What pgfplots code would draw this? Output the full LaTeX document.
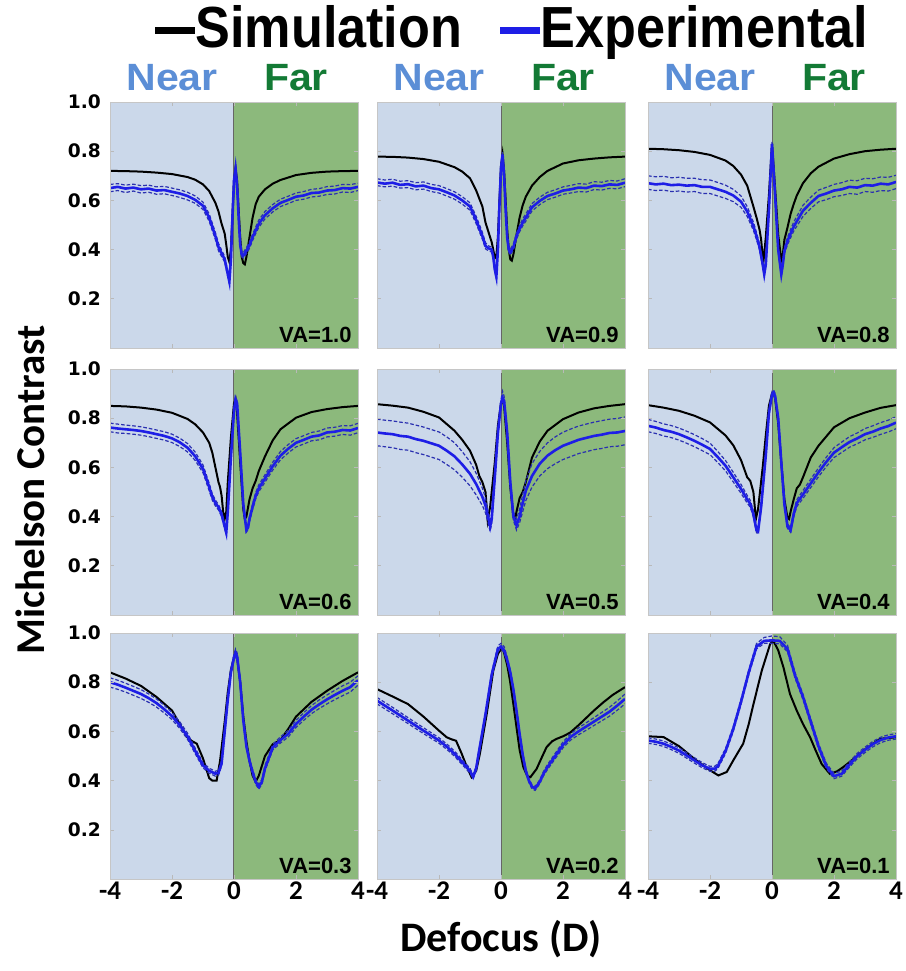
\documentclass[border=0pt]{standalone}
\usepackage{pgfplots}
\pgfplotsset{compat=1.18}
\usepackage{pgfplotstable}
\usepackage{fontspec}
\setmainfont{Carlito}
\newfontfamily\legfont[FakeStretch=0.9]{Liberation Sans}
\newfontfamily\nearfont[FakeStretch=1.08]{Liberation Sans}
\newfontfamily\arialfont{Liberation Sans}
\newfontfamily\dejafont{DejaVu Sans}
\definecolor{nearc}{HTML}{CBD8EA}
\definecolor{farc}{HTML}{8CB97C}
\definecolor{neartxt}{HTML}{5B8ED6}
\definecolor{fartxt}{HTML}{137A35}
\definecolor{expblue}{HTML}{1E1EE6}
\definecolor{bndblue}{HTML}{2A30B0}

% ---------------- VA = 1.0 ----------------
\pgfplotstableread{
x y
-4 0.720
-3.5 0.719
-3 0.717
-2.5 0.713
-2 0.707
-1.5 0.695
-1.25 0.684
-1 0.665
-0.8 0.638
-0.6 0.590
-0.5 0.555
-0.4 0.505
-0.3 0.465
-0.25 0.420
-0.2 0.370
-0.15 0.350
-0.1 0.400
-0.05 0.540
0 0.680
0.05 0.730
0.1 0.680
0.15 0.560
0.2 0.450
0.25 0.370
0.3 0.345
0.35 0.340
0.4 0.370
0.5 0.450
0.6 0.530
0.7 0.585
0.8 0.615
1 0.645
1.25 0.668
1.5 0.683
2 0.703
2.5 0.712
3 0.717
3.5 0.719
4 0.720
}\simA
\pgfplotstableread{
x y lo hi
-4 0.650 0.635 0.665
-3.75 0.655 0.640 0.668
-3.5 0.648 0.632 0.662
-3.25 0.652 0.638 0.666
-3 0.645 0.630 0.660
-2.75 0.648 0.633 0.662
-2.5 0.640 0.625 0.655
-2.25 0.642 0.627 0.657
-2 0.635 0.620 0.650
-1.75 0.628 0.612 0.643
-1.5 0.618 0.602 0.633
-1.25 0.602 0.588 0.618
-1 0.578 0.563 0.593
-0.8 0.530 0.515 0.545
-0.6 0.455 0.440 0.470
-0.5 0.410 0.395 0.425
-0.4 0.385 0.372 0.398
-0.3 0.360 0.350 0.372
-0.2 0.300 0.290 0.312
-0.15 0.270 0.262 0.280
-0.1 0.360 0.350 0.370
-0.05 0.530 0.520 0.540
0 0.680 0.670 0.690
0.05 0.730 0.720 0.740
0.1 0.660 0.650 0.670
0.15 0.530 0.520 0.540
0.2 0.420 0.410 0.430
0.25 0.380 0.370 0.390
0.3 0.375 0.365 0.388
0.4 0.395 0.383 0.408
0.5 0.418 0.405 0.432
0.6 0.450 0.437 0.463
0.7 0.478 0.465 0.492
0.8 0.505 0.490 0.520
1 0.540 0.525 0.555
1.25 0.568 0.553 0.583
1.5 0.590 0.575 0.605
1.75 0.602 0.587 0.617
2 0.615 0.600 0.630
2.25 0.620 0.605 0.636
2.5 0.630 0.614 0.645
2.75 0.632 0.617 0.648
3 0.640 0.624 0.656
3.25 0.642 0.626 0.658
3.5 0.650 0.634 0.665
3.75 0.648 0.632 0.664
4 0.655 0.640 0.670
}\expA

% ---------------- VA = 0.9 ----------------
\pgfplotstableread{
x y
-4 0.778
-3.5 0.777
-3 0.774
-2.5 0.768
-2 0.757
-1.5 0.735
-1.25 0.717
-1 0.690
-0.8 0.640
-0.6 0.575
-0.5 0.510
-0.4 0.470
-0.3 0.430
-0.25 0.400
-0.2 0.365
-0.15 0.375
-0.1 0.450
-0.05 0.600
0 0.740
0.05 0.787
0.1 0.720
0.15 0.600
0.2 0.480
0.25 0.400
0.3 0.360
0.35 0.355
0.4 0.380
0.5 0.460
0.6 0.530
0.7 0.580
0.8 0.615
1 0.660
1.25 0.695
1.5 0.720
2 0.750
2.5 0.763
3 0.770
3.5 0.775
4 0.778
}\simB
\pgfplotstableread{
x y lo hi
-4 0.673 0.660 0.688
-3.75 0.668 0.655 0.683
-3.5 0.672 0.658 0.686
-3.25 0.663 0.650 0.678
-3 0.666 0.652 0.680
-2.75 0.657 0.643 0.672
-2.5 0.660 0.646 0.675
-2.25 0.650 0.636 0.665
-2 0.645 0.630 0.660
-1.75 0.633 0.618 0.648
-1.5 0.620 0.605 0.635
-1.25 0.600 0.585 0.615
-1 0.575 0.560 0.590
-0.8 0.520 0.505 0.535
-0.6 0.455 0.442 0.470
-0.5 0.415 0.403 0.428
-0.4 0.405 0.395 0.415
-0.3 0.400 0.390 0.410
-0.25 0.370 0.360 0.380
-0.2 0.320 0.310 0.330
-0.15 0.290 0.280 0.300
-0.1 0.400 0.390 0.410
-0.05 0.580 0.570 0.590
0 0.730 0.720 0.740
0.05 0.787 0.777 0.797
0.1 0.700 0.690 0.710
0.15 0.560 0.550 0.570
0.2 0.450 0.440 0.460
0.25 0.400 0.390 0.412
0.3 0.390 0.378 0.402
0.4 0.410 0.398 0.423
0.5 0.455 0.442 0.468
0.6 0.485 0.472 0.498
0.7 0.510 0.496 0.525
0.8 0.530 0.515 0.545
1 0.572 0.557 0.587
1.25 0.598 0.583 0.613
1.5 0.618 0.603 0.633
1.75 0.628 0.613 0.643
2 0.640 0.625 0.655
2.25 0.645 0.630 0.661
2.5 0.652 0.636 0.668
2.75 0.650 0.634 0.666
3 0.660 0.644 0.676
3.25 0.658 0.642 0.674
3.5 0.665 0.649 0.681
3.75 0.663 0.647 0.679
4 0.672 0.656 0.688
}\expB

% ---------------- VA = 0.8 ----------------
\pgfplotstableread{
x y
-4 0.810
-3.5 0.808
-3 0.804
-2.5 0.797
-2 0.785
-1.5 0.762
-1.25 0.740
-1 0.705
-0.8 0.660
-0.6 0.575
-0.5 0.530
-0.4 0.480
-0.35 0.440
-0.3 0.370
-0.27 0.358
-0.2 0.450
-0.1 0.620
0 0.830
0.1 0.650
0.2 0.460
0.3 0.358
0.35 0.380
0.4 0.440
0.5 0.490
0.6 0.545
0.7 0.585
0.8 0.620
1 0.670
1.25 0.710
1.5 0.737
2 0.770
2.5 0.788
3 0.800
3.5 0.806
4 0.810
}\simC
\pgfplotstableread{
x y lo hi
-4 0.670 0.645 0.700
-3.75 0.665 0.640 0.696
-3.5 0.668 0.642 0.698
-3.25 0.662 0.636 0.692
-3 0.664 0.638 0.694
-2.75 0.660 0.634 0.690
-2.5 0.662 0.636 0.690
-2.25 0.655 0.628 0.684
-2 0.655 0.628 0.683
-1.75 0.645 0.618 0.673
-1.5 0.635 0.608 0.662
-1.25 0.620 0.595 0.645
-1 0.595 0.572 0.618
-0.8 0.555 0.535 0.575
-0.6 0.495 0.478 0.512
-0.5 0.455 0.440 0.470
-0.4 0.410 0.398 0.422
-0.3 0.340 0.330 0.350
-0.25 0.300 0.292 0.308
-0.2 0.340 0.332 0.348
-0.1 0.560 0.552 0.568
0 0.830 0.822 0.838
0.1 0.620 0.612 0.628
0.2 0.400 0.392 0.408
0.3 0.300 0.292 0.308
0.35 0.340 0.330 0.350
0.4 0.395 0.383 0.408
0.5 0.435 0.420 0.450
0.6 0.465 0.448 0.482
0.7 0.493 0.475 0.512
0.8 0.515 0.495 0.535
1 0.558 0.535 0.580
1.25 0.590 0.567 0.613
1.5 0.618 0.594 0.642
1.75 0.628 0.603 0.653
2 0.640 0.615 0.665
2.25 0.645 0.620 0.672
2.5 0.655 0.628 0.682
2.75 0.652 0.625 0.680
3 0.662 0.636 0.690
3.25 0.660 0.633 0.688
3.5 0.668 0.640 0.695
3.75 0.665 0.638 0.694
4 0.675 0.648 0.702
}\expC

% ---------------- VA = 0.6 ----------------
\pgfplotstableread{
x y
-4 0.850
-3.5 0.848
-3 0.843
-2.5 0.835
-2 0.822
-1.5 0.797
-1.25 0.775
-1 0.742
-0.8 0.700
-0.7 0.660
-0.6 0.600
-0.5 0.540
-0.45 0.520
-0.4 0.485
-0.35 0.420
-0.3 0.390
-0.25 0.420
-0.2 0.540
-0.1 0.720
0 0.860
0.05 0.877
0.1 0.820
0.2 0.620
0.3 0.430
0.35 0.390
0.4 0.400
0.5 0.470
0.6 0.515
0.7 0.545
0.8 0.585
1 0.645
1.25 0.710
1.5 0.755
2 0.802
2.5 0.825
3 0.837
3.5 0.845
4 0.850
}\simD
\pgfplotstableread{
x y lo hi
-4 0.762 0.745 0.780
-3.75 0.758 0.740 0.776
-3.5 0.755 0.738 0.772
-3.25 0.752 0.735 0.769
-3 0.748 0.731 0.765
-2.75 0.742 0.725 0.759
-2.5 0.735 0.718 0.752
-2.25 0.728 0.711 0.745
-2 0.718 0.701 0.735
-1.75 0.702 0.685 0.719
-1.5 0.680 0.663 0.697
-1.25 0.645 0.628 0.662
-1 0.594 0.578 0.610
-0.8 0.520 0.505 0.535
-0.7 0.480 0.467 0.493
-0.6 0.455 0.443 0.467
-0.5 0.438 0.427 0.449
-0.4 0.410 0.400 0.420
-0.3 0.360 0.350 0.370
-0.25 0.335 0.327 0.343
-0.2 0.420 0.412 0.428
-0.1 0.640 0.632 0.648
0 0.830 0.822 0.840
0.05 0.877 0.867 0.887
0.1 0.860 0.850 0.870
0.2 0.660 0.652 0.668
0.3 0.450 0.442 0.458
0.4 0.345 0.337 0.353
0.45 0.355 0.346 0.364
0.5 0.390 0.380 0.400
0.6 0.440 0.428 0.452
0.7 0.485 0.472 0.498
0.8 0.515 0.501 0.529
1 0.555 0.540 0.570
1.25 0.605 0.589 0.621
1.5 0.648 0.631 0.665
1.75 0.676 0.659 0.693
2 0.700 0.683 0.717
2.25 0.712 0.695 0.729
2.5 0.725 0.708 0.742
2.75 0.730 0.712 0.748
3 0.742 0.724 0.760
3.25 0.745 0.727 0.763
3.5 0.752 0.734 0.770
3.75 0.750 0.731 0.769
4 0.760 0.741 0.779
}\expD

% ---------------- VA = 0.5 ----------------
\pgfplotstableread{
x y
-4 0.857
-3.5 0.851
-3 0.843
-2.5 0.826
-2 0.803
-1.5 0.749
-1.25 0.712
-1 0.668
-0.8 0.610
-0.7 0.565
-0.6 0.540
-0.5 0.500
-0.43 0.385
-0.35 0.440
-0.2 0.620
-0.1 0.770
0 0.860
0.05 0.877
0.1 0.850
0.2 0.700
0.3 0.520
0.4 0.400
0.45 0.385
0.5 0.420
0.6 0.475
0.7 0.500
0.8 0.540
1 0.640
1.25 0.705
1.5 0.749
2 0.796
2.5 0.823
3 0.840
3.5 0.850
4 0.857
}\simE
\pgfplotstableread{
x y lo hi
-4 0.742 0.688 0.796
-3.75 0.738 0.684 0.792
-3.5 0.735 0.680 0.789
-3.25 0.728 0.673 0.784
-3 0.725 0.670 0.780
-2.75 0.715 0.660 0.772
-2.5 0.708 0.652 0.764
-2.25 0.698 0.642 0.754
-2 0.688 0.632 0.744
-1.75 0.668 0.612 0.724
-1.5 0.645 0.590 0.700
-1.25 0.612 0.560 0.664
-1 0.574 0.525 0.623
-0.8 0.532 0.488 0.576
-0.6 0.480 0.445 0.515
-0.5 0.445 0.415 0.475
-0.4 0.390 0.365 0.412
-0.35 0.360 0.340 0.385
-0.3 0.390 0.372 0.408
-0.2 0.560 0.545 0.575
-0.1 0.740 0.728 0.752
0 0.860 0.850 0.875
0.05 0.884 0.872 0.910
0.1 0.870 0.860 0.890
0.2 0.740 0.730 0.755
0.3 0.540 0.530 0.555
0.4 0.400 0.385 0.418
0.5 0.365 0.345 0.390
0.6 0.400 0.375 0.430
0.7 0.455 0.420 0.490
0.8 0.505 0.465 0.545
1 0.565 0.520 0.615
1.25 0.615 0.565 0.665
1.5 0.648 0.595 0.700
1.75 0.670 0.615 0.724
2 0.688 0.632 0.743
2.25 0.700 0.644 0.756
2.5 0.712 0.656 0.768
2.75 0.720 0.664 0.776
3 0.728 0.672 0.784
3.25 0.733 0.677 0.790
3.5 0.740 0.684 0.796
3.75 0.742 0.686 0.799
4 0.748 0.692 0.805
}\expE

% ---------------- VA = 0.4 ----------------
\pgfplotstableread{
x y
-4 0.853
-3.5 0.843
-3 0.830
-2.5 0.810
-2 0.783
-1.5 0.730
-1.25 0.690
-1 0.630
-0.9 0.595
-0.8 0.560
-0.7 0.545
-0.6 0.500
-0.52 0.390
-0.45 0.430
-0.3 0.600
-0.2 0.730
-0.1 0.850
0 0.900
0.05 0.904
0.1 0.880
0.2 0.780
0.3 0.620
0.4 0.470
0.5 0.395
0.55 0.390
0.6 0.420
0.7 0.470
0.8 0.515
0.9 0.530
1 0.560
1.25 0.640
1.5 0.688
2 0.763
2.5 0.800
3 0.823
3.5 0.842
4 0.853
}\simF
\pgfplotstableread{
x y lo hi
-4 0.769 0.745 0.795
-3.75 0.762 0.738 0.787
-3.5 0.752 0.728 0.777
-3.25 0.745 0.721 0.770
-3 0.735 0.711 0.760
-2.75 0.722 0.698 0.747
-2.5 0.708 0.684 0.733
-2.25 0.692 0.668 0.717
-2 0.675 0.652 0.699
-1.75 0.642 0.620 0.665
-1.5 0.607 0.586 0.628
-1.25 0.560 0.541 0.580
-1 0.513 0.495 0.531
-0.8 0.470 0.455 0.486
-0.7 0.452 0.438 0.466
-0.6 0.410 0.398 0.423
-0.5 0.345 0.335 0.356
-0.45 0.340 0.330 0.350
-0.35 0.440 0.432 0.450
-0.2 0.650 0.642 0.660
-0.1 0.820 0.810 0.830
0 0.895 0.885 0.910
0.05 0.904 0.890 0.915
0.1 0.890 0.878 0.902
0.2 0.800 0.790 0.810
0.3 0.620 0.612 0.630
0.4 0.450 0.442 0.460
0.5 0.360 0.352 0.370
0.6 0.345 0.336 0.355
0.7 0.410 0.398 0.422
0.8 0.455 0.441 0.469
1 0.490 0.474 0.506
1.25 0.535 0.518 0.552
1.5 0.580 0.562 0.598
1.75 0.622 0.603 0.641
2 0.660 0.640 0.680
2.25 0.682 0.661 0.703
2.5 0.703 0.682 0.725
2.75 0.718 0.696 0.740
3 0.735 0.712 0.758
3.25 0.745 0.722 0.769
3.5 0.758 0.734 0.782
3.75 0.768 0.744 0.792
4 0.782 0.757 0.806
}\expF

% ---------------- VA = 0.3 ----------------
\pgfplotstableread{
x y
-4 0.840
-3.5 0.815
-3 0.785
-2.5 0.740
-2 0.685
-1.75 0.630
-1.5 0.575
-1.35 0.560
-1.2 0.550
-1 0.490
-0.8 0.410
-0.7 0.400
-0.56 0.400
-0.45 0.480
-0.3 0.640
-0.2 0.760
-0.1 0.850
0 0.900
0.05 0.920
0.1 0.900
0.2 0.800
0.3 0.660
0.4 0.560
0.5 0.480
0.6 0.420
0.7 0.395
0.8 0.420
1 0.500
1.25 0.548
1.5 0.565
1.75 0.610
2 0.660
2.5 0.720
3 0.765
3.5 0.805
4 0.840
}\simG
\pgfplotstableread{
x y lo hi
-4 0.800 0.780 0.818
-3.75 0.790 0.771 0.808
-3.5 0.778 0.760 0.796
-3.25 0.765 0.747 0.783
-3 0.752 0.734 0.770
-2.75 0.735 0.718 0.752
-2.5 0.715 0.699 0.732
-2.25 0.690 0.675 0.706
-2 0.662 0.648 0.677
-1.75 0.625 0.612 0.639
-1.5 0.580 0.568 0.593
-1.25 0.520 0.509 0.532
-1 0.462 0.452 0.473
-0.8 0.440 0.430 0.450
-0.6 0.428 0.418 0.438
-0.5 0.432 0.422 0.442
-0.4 0.470 0.460 0.480
-0.3 0.600 0.590 0.612
-0.2 0.730 0.720 0.742
-0.1 0.840 0.830 0.852
0 0.900 0.890 0.915
0.05 0.918 0.905 0.935
0.1 0.905 0.893 0.920
0.2 0.800 0.790 0.812
0.3 0.645 0.635 0.655
0.4 0.540 0.530 0.550
0.5 0.480 0.470 0.490
0.6 0.435 0.425 0.445
0.7 0.395 0.385 0.405
0.8 0.375 0.365 0.385
0.9 0.395 0.385 0.405
1 0.450 0.440 0.462
1.25 0.535 0.524 0.547
1.5 0.565 0.553 0.578
1.75 0.590 0.577 0.604
2 0.630 0.616 0.645
2.25 0.660 0.645 0.676
2.5 0.688 0.672 0.705
2.75 0.710 0.693 0.728
3 0.730 0.712 0.748
3.25 0.748 0.729 0.767
3.5 0.765 0.745 0.785
3.75 0.780 0.760 0.800
4 0.808 0.788 0.826
}\expG

% ---------------- VA = 0.2 ----------------
\pgfplotstableread{
x y
-4 0.772
-3.5 0.742
-3 0.711
-2.5 0.660
-2 0.603
-1.75 0.576
-1.6 0.568
-1.45 0.562
-1.27 0.510
-1.1 0.455
-0.95 0.414
-0.8 0.440
-0.68 0.510
-0.46 0.671
-0.25 0.846
-0.1 0.915
0 0.934
0.08 0.930
0.2 0.870
0.29 0.806
0.4 0.710
0.5 0.617
0.6 0.525
0.72 0.455
0.85 0.418
0.95 0.414
1.15 0.448
1.3 0.490
1.47 0.536
1.65 0.560
1.8 0.570
2 0.580
2.23 0.595
2.5 0.625
2.75 0.655
3 0.685
3.3 0.718
3.6 0.748
4 0.780
}\simH
\pgfplotstableread{
x y lo hi
-4 0.725 0.712 0.738
-3.5 0.685 0.672 0.698
-3 0.644 0.632 0.656
-2.5 0.603 0.591 0.615
-2 0.563 0.552 0.574
-1.75 0.538 0.527 0.549
-1.5 0.509 0.499 0.520
-1.25 0.475 0.465 0.485
-1 0.440 0.430 0.450
-0.9 0.415 0.407 0.423
-0.8 0.450 0.442 0.458
-0.7 0.525 0.517 0.533
-0.5 0.670 0.662 0.678
-0.3 0.830 0.822 0.840
-0.1 0.935 0.925 0.948
0 0.945 0.935 0.958
0.1 0.930 0.920 0.945
0.2 0.890 0.880 0.902
0.3 0.840 0.830 0.850
0.4 0.770 0.762 0.778
0.5 0.684 0.676 0.692
0.6 0.590 0.582 0.598
0.7 0.505 0.497 0.513
0.8 0.440 0.432 0.448
0.9 0.400 0.392 0.408
1 0.375 0.367 0.383
1.1 0.368 0.360 0.376
1.25 0.395 0.387 0.403
1.37 0.428 0.419 0.437
1.5 0.455 0.445 0.465
1.75 0.500 0.489 0.511
2 0.545 0.533 0.557
2.25 0.578 0.565 0.591
2.5 0.600 0.586 0.614
2.75 0.620 0.605 0.635
3 0.640 0.624 0.656
3.25 0.660 0.643 0.677
3.5 0.680 0.662 0.698
3.75 0.705 0.686 0.724
4 0.732 0.712 0.752
}\expH

% ---------------- VA = 0.1 ----------------
\pgfplotstableread{
x y
-4 0.580
-3.5 0.577
-3 0.540
-2.5 0.488
-2 0.442
-1.73 0.421
-1.46 0.435
-1.25 0.482
-0.93 0.550
-0.75 0.630
-0.6 0.710
-0.33 0.847
-0.06 0.955
0.04 0.969
0.2 0.930
0.37 0.860
0.58 0.752
0.8 0.684
1 0.630
1.23 0.576
1.4 0.525
1.6 0.468
1.87 0.427
2.1 0.438
2.3 0.455
2.6 0.485
2.95 0.522
3.2 0.545
3.49 0.570
4 0.576
}\simI
\pgfplotstableread{
x y lo hi
-4 0.563 0.552 0.574
-3.75 0.558 0.547 0.569
-3.5 0.550 0.539 0.561
-3.25 0.537 0.526 0.548
-3 0.522 0.511 0.533
-2.75 0.502 0.491 0.513
-2.5 0.482 0.471 0.493
-2.25 0.462 0.452 0.473
-2 0.448 0.438 0.458
-1.85 0.448 0.438 0.458
-1.75 0.458 0.448 0.468
-1.5 0.520 0.510 0.530
-1.25 0.610 0.600 0.620
-1 0.720 0.710 0.730
-0.75 0.840 0.830 0.850
-0.5 0.945 0.935 0.957
-0.25 0.968 0.958 0.982
0 0.970 0.958 0.988
0.25 0.968 0.956 0.985
0.5 0.935 0.923 0.950
0.75 0.825 0.814 0.837
1 0.740 0.729 0.751
1.25 0.640 0.629 0.651
1.5 0.540 0.529 0.551
1.75 0.460 0.450 0.471
2 0.418 0.408 0.429
2.25 0.428 0.418 0.439
2.5 0.465 0.455 0.476
2.75 0.500 0.489 0.511
3 0.525 0.514 0.536
3.25 0.548 0.537 0.559
3.5 0.565 0.554 0.576
3.75 0.575 0.564 0.586
4 0.580 0.569 0.591
}\expI

\pgfplotsset{
  panelstyle/.style={
    anchor=south west, scale only axis, width=124pt, height=123pt,
    xmin=-4, xmax=4, ymin=0, ymax=1,
    xtick={-4,-2,0,2,4}, ytick={0.2,0.4,0.6,0.8,1.0},
    xticklabels={}, yticklabels={},
    tick align=inside, major tick length=2pt,
    tick style={draw=gray!55, line width=0.3pt},
    axis line style={draw=gray!45, line width=0.4pt},
    axis on top, clip=true,
  },
  leftcol/.style={yticklabels={0.2,0.4,0.6,0.8,1.0},
    yticklabel style={font=\dejafont\bfseries\fontsize{9.3}{10}\selectfont, xshift=-1pt}},
  bottomrow/.style={xticklabels={-4,-2,0,2,4},
    xticklabel style={font=\bfseries\fontsize{13.5}{14}\selectfont, yshift=2pt}},
  simline/.style={black, line width=1.0pt, no marks},
  expline/.style={expblue, line width=1.3pt, no marks},
  bnd/.style={bndblue, line width=0.6pt, dash pattern=on 1.8pt off 1pt, no marks},
}

\newcommand{\panel}[6]{%
\begin{axis}[panelstyle, at={(#1,#2)}, #6]
\fill[nearc] (axis cs:-4,0) rectangle (axis cs:0,1);
\fill[farc] (axis cs:0,0) rectangle (axis cs:4,1);
\draw[black!60, line width=0.5pt] (axis cs:0,0) -- (axis cs:0,1);
\addplot[simline] table[x=x,y=y] {#3};
\addplot[bnd] table[x=x,y=lo] {#4};
\addplot[bnd] table[x=x,y=hi] {#4};
\addplot[expline] table[x=x,y=y] {#4};
\node[anchor=south east, inner sep=0pt, font=\arialfont\bfseries\fontsize{11}{12}\selectfont] at ([xshift=-3pt,yshift=2.5pt]rel axis cs:1,0) {VA=#5};
\end{axis}}

\begin{document}
\begin{tikzpicture}
\path[use as bounding box] (0,0) rectangle (453pt,485.5pt);
% row 1
\panel{55pt}{311.5pt}{\simA}{\expA}{1.0}{leftcol}
\panel{188.5pt}{311.5pt}{\simB}{\expB}{0.9}{}
\panel{324pt}{311.5pt}{\simC}{\expC}{0.8}{}
% row 2
\panel{55pt}{178pt}{\simD}{\expD}{0.6}{leftcol}
\panel{188.5pt}{178pt}{\simE}{\expE}{0.5}{}
\panel{324pt}{178pt}{\simF}{\expF}{0.4}{}
% row 3
\panel{55pt}{46pt}{\simG}{\expG}{0.3}{leftcol,bottomrow}
\panel{188.5pt}{46pt}{\simH}{\expH}{0.2}{bottomrow}
\panel{324pt}{46pt}{\simI}{\expI}{0.1}{bottomrow}
% legend
\node[anchor=base west, inner sep=0pt, font=\legfont\bfseries\fontsize{29}{30}\selectfont] at (77.5pt,461.5pt) {\rule[6.8pt]{20pt}{3.6pt}Simulation};
\node[anchor=base west, inner sep=0pt, font=\legfont\bfseries\fontsize{29}{30}\selectfont] at (250pt,461.5pt) {\textcolor{expblue}{\rule[6.8pt]{20pt}{3.6pt}}Experimental};
% near / far
\foreach \nx/\fx in {86pt/148pt, 219.5pt/281.5pt, 355pt/417pt}{
  \node[anchor=base, inner sep=0pt, text=neartxt, font=\nearfont\bfseries\fontsize{19}{20}\selectfont] at (\nx,440pt) {Near};
  \node[anchor=base, inner sep=0pt, text=fartxt, font=\nearfont\bfseries\fontsize{19}{20}\selectfont] at (\fx,440pt) {Far};
}
% axis labels
\node[rotate=90, inner sep=0pt, font=\bfseries\fontsize{20.5}{21}\selectfont] at (15pt,240.5pt) {Michelson Contrast};
\node[inner sep=0pt, font=\bfseries\fontsize{21}{22}\selectfont] at (250.5pt,16pt) {Defocus (D)};
\end{tikzpicture}
\end{document}
